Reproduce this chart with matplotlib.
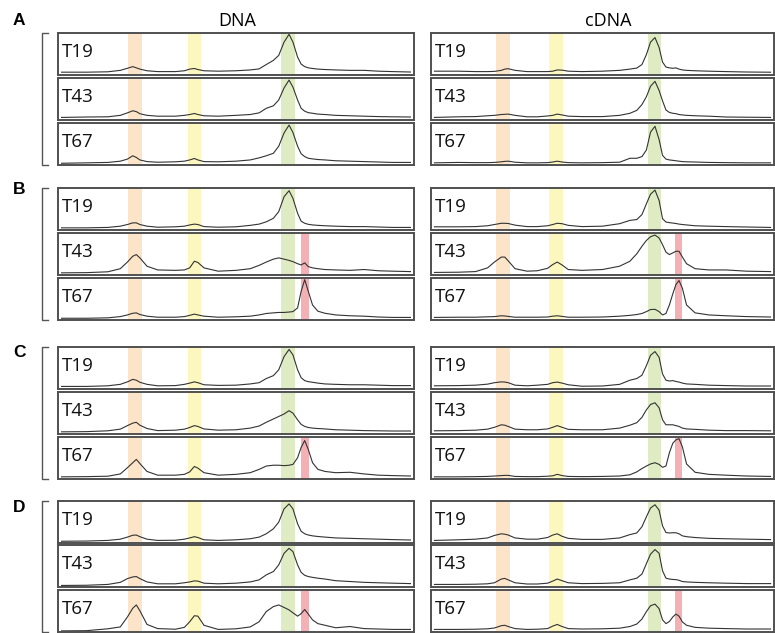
import matplotlib
matplotlib.use("Agg")
import matplotlib.pyplot as plt
from matplotlib.lines import Line2D

# migration position (% of panel width) at which each trace is sampled
X_DNA = [1, 8, 14, 17.5, 19.5, 21, 22, 23, 25, 28, 33, 35.5, 37, 38.3, 39.3, 41, 45, 50,
         54, 56.5, 58.5, 60.5, 62, 63.5, 64.9, 66, 67.3, 68.3, 69.3, 70.3, 71.5, 73, 75,
         78, 82, 86, 90, 94, 99]
X_CDNA = [1, 8, 13, 16.5, 18.5, 20.5, 21.5, 22.5, 24.5, 28, 31, 34, 35.5, 36.8, 38.2, 40,
          44, 50, 55, 58, 60, 61.5, 62.8, 64, 65.3, 66.5, 67.5, 68.5, 69.5, 70.5, 71.4,
          72.3, 73.3, 74.5, 77, 81, 86, 92, 99]

# relative signal, DNA
A_DNA_T19 = [0.056, 0.056, 0.065, 0.10, 0.15, 0.19, 0.16, 0.13, 0.09, 0.07, 0.07, 0.09, 0.13,
             0.145, 0.12, 0.09, 0.08, 0.09, 0.11, 0.135, 0.24, 0.34, 0.46, 0.78, 0.97, 0.78,
             0.42, 0.25, 0.19, 0.16, 0.145, 0.13, 0.12, 0.11, 0.10, 0.10, 0.08, 0.07, 0.06]
A_DNA_T43 = [0.05, 0.06, 0.065, 0.10, 0.16, 0.21, 0.19, 0.14, 0.10, 0.08, 0.08, 0.10, 0.12,
             0.145, 0.12, 0.09, 0.08, 0.10, 0.12, 0.16, 0.27, 0.33, 0.47, 0.76, 0.95, 0.78,
             0.47, 0.27, 0.20, 0.165, 0.15, 0.13, 0.12, 0.10, 0.09, 0.08, 0.07, 0.065, 0.06]
A_DNA_T67 = [0.03, 0.04, 0.05, 0.08, 0.13, 0.21, 0.17, 0.11, 0.07, 0.055, 0.065, 0.08, 0.11,
             0.145, 0.11, 0.07, 0.065, 0.08, 0.11, 0.16, 0.21, 0.27, 0.44, 0.76, 0.95, 0.77,
             0.44, 0.26, 0.19, 0.15, 0.135, 0.12, 0.11, 0.09, 0.08, 0.07, 0.06, 0.05, 0.05]
B_DNA_T19 = [0.04, 0.04, 0.05, 0.08, 0.12, 0.16, 0.16, 0.12, 0.08, 0.055, 0.065, 0.08, 0.11,
             0.13, 0.12, 0.07, 0.055, 0.065, 0.10, 0.13, 0.185, 0.27, 0.43, 0.79, 0.935, 0.75,
             0.39, 0.20, 0.15, 0.125, 0.11, 0.10, 0.09, 0.08, 0.07, 0.07, 0.06, 0.05, 0.05]
B_DNA_T43 = [0.04, 0.045, 0.065, 0.14, 0.30, 0.44, 0.48, 0.40, 0.20, 0.11, 0.10, 0.11, 0.16,
             0.32, 0.29, 0.16, 0.08, 0.10, 0.14, 0.22, 0.30, 0.37, 0.40, 0.37, 0.34, 0.31,
             0.26, 0.23, 0.28, 0.19, 0.16, 0.14, 0.12, 0.11, 0.10, 0.12, 0.09, 0.08, 0.07]
B_DNA_T67 = [0.03, 0.03, 0.04, 0.07, 0.11, 0.15, 0.16, 0.12, 0.08, 0.055, 0.055, 0.07, 0.10,
             0.13, 0.11, 0.08, 0.055, 0.065, 0.08, 0.11, 0.145, 0.16, 0.17, 0.17, 0.18, 0.19,
             0.28, 0.68, 0.96, 0.68, 0.35, 0.20, 0.15, 0.11, 0.09, 0.08, 0.06, 0.05, 0.05]
C_DNA_T19 = [0.05, 0.05, 0.065, 0.10, 0.16, 0.22, 0.20, 0.15, 0.10, 0.065, 0.07, 0.10, 0.13,
             0.16, 0.14, 0.09, 0.075, 0.08, 0.11, 0.14, 0.24, 0.31, 0.45, 0.77, 0.94, 0.81,
             0.45, 0.26, 0.19, 0.165, 0.15, 0.13, 0.11, 0.10, 0.09, 0.09, 0.08, 0.07, 0.07]
C_DNA_T43 = [0.04, 0.045, 0.065, 0.105, 0.19, 0.25, 0.27, 0.20, 0.12, 0.07, 0.08, 0.105, 0.145,
             0.19, 0.17, 0.11, 0.08, 0.09, 0.13, 0.18, 0.27, 0.35, 0.41, 0.47, 0.55, 0.49,
             0.33, 0.22, 0.17, 0.145, 0.13, 0.12, 0.11, 0.09, 0.08, 0.07, 0.065, 0.06, 0.06]
C_DNA_T67 = [0.04, 0.045, 0.055, 0.11, 0.26, 0.38, 0.46, 0.36, 0.17, 0.08, 0.08, 0.10, 0.16,
             0.29, 0.25, 0.14, 0.08, 0.10, 0.14, 0.22, 0.30, 0.32, 0.32, 0.31, 0.32, 0.34,
             0.50, 0.75, 0.915, 0.70, 0.38, 0.22, 0.17, 0.14, 0.15, 0.11, 0.08, 0.07, 0.06]
D_DNA_T19 = [0.03, 0.035, 0.05, 0.08, 0.13, 0.175, 0.18, 0.14, 0.08, 0.05, 0.055, 0.08, 0.11,
             0.14, 0.12, 0.065, 0.05, 0.065, 0.09, 0.13, 0.21, 0.33, 0.49, 0.81, 0.93, 0.81,
             0.45, 0.27, 0.21, 0.18, 0.16, 0.145, 0.13, 0.11, 0.10, 0.09, 0.08, 0.07, 0.06]
D_DNA_T43 = [0.025, 0.03, 0.05, 0.10, 0.19, 0.23, 0.24, 0.19, 0.11, 0.065, 0.065, 0.09, 0.11,
             0.135, 0.13, 0.08, 0.065, 0.08, 0.11, 0.16, 0.28, 0.36, 0.52, 0.80, 0.92, 0.84,
             0.52, 0.34, 0.27, 0.24, 0.22, 0.20, 0.18, 0.14, 0.12, 0.10, 0.09, 0.08, 0.07]
D_DNA_T67 = [0.015, 0.02, 0.065, 0.11, 0.35, 0.56, 0.64, 0.50, 0.17, 0.07, 0.055, 0.10, 0.235,
             0.38, 0.37, 0.15, 0.05, 0.065, 0.11, 0.235, 0.48, 0.60, 0.64, 0.58, 0.52, 0.45,
             0.37, 0.43, 0.53, 0.42, 0.28, 0.19, 0.15, 0.09, 0.12, 0.07, 0.06, 0.05, 0.05]

# relative signal, cDNA
A_CDNA_T19 = [0.08, 0.08, 0.07, 0.07, 0.075, 0.10, 0.13, 0.14, 0.10, 0.07, 0.07, 0.07, 0.08,
              0.11, 0.105, 0.08, 0.07, 0.08, 0.10, 0.13, 0.155, 0.24, 0.48, 0.78, 0.89, 0.65,
              0.30, 0.18, 0.16, 0.15, 0.16, 0.13, 0.11, 0.10, 0.09, 0.08, 0.07, 0.06, 0.055]
A_CDNA_T43 = [0.05, 0.065, 0.07, 0.09, 0.10, 0.12, 0.125, 0.13, 0.10, 0.065, 0.065, 0.085, 0.10,
              0.13, 0.11, 0.08, 0.07, 0.07, 0.10, 0.15, 0.22, 0.36, 0.55, 0.80, 0.92, 0.70,
              0.45, 0.23, 0.17, 0.15, 0.14, 0.12, 0.11, 0.10, 0.09, 0.08, 0.06, 0.055, 0.05]
A_CDNA_T67 = [0.04, 0.05, 0.045, 0.045, 0.05, 0.065, 0.075, 0.08, 0.055, 0.04, 0.04, 0.045,
              0.06, 0.08, 0.06, 0.045, 0.04, 0.045, 0.055, 0.15, 0.15, 0.19, 0.35, 0.78, 0.92,
              0.60, 0.22, 0.13, 0.11, 0.10, 0.09, 0.08, 0.07, 0.065, 0.06, 0.05, 0.045, 0.04,
              0.04]
B_CDNA_T19 = [0.065, 0.065, 0.07, 0.09, 0.12, 0.15, 0.15, 0.145, 0.105, 0.07, 0.07, 0.09, 0.12,
              0.15, 0.14, 0.10, 0.07, 0.08, 0.14, 0.22, 0.24, 0.36, 0.62, 0.85, 0.95, 0.70,
              0.26, 0.18, 0.165, 0.155, 0.145, 0.13, 0.12, 0.11, 0.09, 0.08, 0.07, 0.06, 0.05]
B_CDNA_T43 = [0.05, 0.055, 0.07, 0.16, 0.30, 0.42, 0.42, 0.33, 0.14, 0.08, 0.09, 0.15, 0.24,
              0.30, 0.23, 0.12, 0.10, 0.12, 0.20, 0.32, 0.50, 0.68, 0.82, 0.91, 0.95, 0.88,
              0.72, 0.54, 0.48, 0.52, 0.56, 0.56, 0.42, 0.26, 0.14, 0.11, 0.11, 0.08, 0.07]
B_CDNA_T67 = [0.05, 0.055, 0.055, 0.065, 0.07, 0.09, 0.085, 0.075, 0.055, 0.055, 0.055, 0.06,
              0.08, 0.09, 0.075, 0.055, 0.055, 0.06, 0.08, 0.10, 0.12, 0.145, 0.19, 0.24, 0.245,
              0.19, 0.11, 0.145, 0.35, 0.62, 0.84, 0.94, 0.75, 0.35, 0.16, 0.11, 0.09, 0.07,
              0.06]
C_CDNA_T19 = [0.065, 0.07, 0.08, 0.105, 0.14, 0.16, 0.155, 0.14, 0.08, 0.065, 0.08, 0.10, 0.14,
              0.155, 0.13, 0.09, 0.055, 0.06, 0.10, 0.20, 0.24, 0.32, 0.55, 0.80, 0.89, 0.75,
              0.35, 0.20, 0.18, 0.19, 0.17, 0.155, 0.13, 0.11, 0.10, 0.08, 0.07, 0.06, 0.06]
C_CDNA_T43 = [0.065, 0.07, 0.08, 0.105, 0.15, 0.21, 0.20, 0.17, 0.105, 0.09, 0.09, 0.11, 0.15,
              0.19, 0.15, 0.10, 0.09, 0.09, 0.13, 0.20, 0.26, 0.39, 0.57, 0.70, 0.74, 0.62,
              0.33, 0.21, 0.21, 0.21, 0.19, 0.17, 0.13, 0.11, 0.10, 0.08, 0.07, 0.07, 0.065]
C_CDNA_T67 = [0.04, 0.04, 0.045, 0.05, 0.06, 0.07, 0.075, 0.075, 0.05, 0.045, 0.045, 0.055,
              0.065, 0.10, 0.07, 0.05, 0.045, 0.05, 0.06, 0.09, 0.16, 0.24, 0.30, 0.35, 0.38,
              0.34, 0.27, 0.30, 0.62, 0.85, 0.93, 0.96, 0.76, 0.35, 0.15, 0.10, 0.08, 0.06,
              0.05]
D_CDNA_T19 = [0.05, 0.065, 0.08, 0.11, 0.17, 0.21, 0.20, 0.18, 0.11, 0.08, 0.08, 0.12, 0.18,
              0.21, 0.15, 0.10, 0.075, 0.075, 0.11, 0.19, 0.23, 0.38, 0.62, 0.83, 0.91, 0.78,
              0.40, 0.24, 0.23, 0.235, 0.235, 0.21, 0.16, 0.14, 0.12, 0.10, 0.09, 0.08, 0.07]
D_CDNA_T43 = [0.05, 0.05, 0.055, 0.065, 0.09, 0.18, 0.195, 0.16, 0.09, 0.06, 0.06, 0.08, 0.13,
              0.18, 0.14, 0.09, 0.07, 0.075, 0.09, 0.16, 0.20, 0.30, 0.55, 0.78, 0.89, 0.80,
              0.38, 0.20, 0.18, 0.17, 0.165, 0.15, 0.12, 0.11, 0.10, 0.09, 0.08, 0.07, 0.07]
D_CDNA_T67 = [0.05, 0.05, 0.055, 0.065, 0.085, 0.14, 0.15, 0.12, 0.07, 0.05, 0.055, 0.07, 0.13,
              0.17, 0.12, 0.07, 0.06, 0.065, 0.08, 0.12, 0.18, 0.30, 0.48, 0.62, 0.66, 0.55,
              0.28, 0.19, 0.24, 0.35, 0.42, 0.37, 0.23, 0.15, 0.10, 0.08, 0.07, 0.06, 0.06]

GROUPS = ["A", "B", "C", "D"]
SAMPLES = ["T19", "T43", "T67"]
# which (group, sample) panels carry the extra red band
RED_PANELS = [("B", "T43"), ("B", "T67"), ("C", "T67"), ("D", "T67")]

# highlighted windows (% of width) for each side
BANDS_DNA = {"orange": (19.7, 23.6), "yellow": (36.5, 40.2), "green": (62.6, 66.6),
             "red": (68.3, 70.5)}
BANDS_CDNA = {"orange": (19.0, 23.0), "yellow": (34.4, 38.5), "green": (63.3, 67.1),
              "red": (71.1, 73.2)}
BAND_COLORS = {"orange": "#fbe4c7", "yellow": "#fcf6bf", "green": "#dfebc3",
               "red": "#f4b1b5"}


def main() -> None:
    plt.rcParams["font.family"] = ["Open Sans", "DejaVu Sans"]
    W, H = 775, 633
    fig = plt.figure(figsize=(W / 100, H / 100), dpi=100)

    traces = {
        "DNA": {
            "A": [A_DNA_T19, A_DNA_T43, A_DNA_T67],
            "B": [B_DNA_T19, B_DNA_T43, B_DNA_T67],
            "C": [C_DNA_T19, C_DNA_T43, C_DNA_T67],
            "D": [D_DNA_T19, D_DNA_T43, D_DNA_T67],
        },
        "cDNA": {
            "A": [A_CDNA_T19, A_CDNA_T43, A_CDNA_T67],
            "B": [B_CDNA_T19, B_CDNA_T43, B_CDNA_T67],
            "C": [C_CDNA_T19, C_CDNA_T43, C_CDNA_T67],
            "D": [D_CDNA_T19, D_CDNA_T43, D_CDNA_T67],
        },
    }
    sides = {"DNA": (58, 356, X_DNA, BANDS_DNA), "cDNA": (431, 343, X_CDNA, BANDS_CDNA)}

    # panel tops in pixels, one row of three per group
    tops = {"A": [33, 78, 123], "B": [188, 233, 278],
            "C": [347, 392, 437], "D": [501, 545, 590]}
    ph = 41.5

    for side, (x0, pw, xs, bands) in sides.items():
        for g in GROUPS:
            for i, s in enumerate(SAMPLES):
                top = tops[g][i]
                ax = fig.add_axes([x0 / W, 1 - (top + ph) / H, pw / W, ph / H])
                for name in ("orange", "yellow", "green"):
                    ax.axvspan(*bands[name], color=BAND_COLORS[name], lw=0, zorder=0)
                if (g, s) in RED_PANELS:
                    ax.axvspan(*bands["red"], color=BAND_COLORS["red"], lw=0, zorder=0)
                ax.plot(xs, traces[side][g][i], color="#333333", lw=0.8, zorder=2)
                ax.set_xlim(0, 100)
                ax.set_ylim(0, 1)
                ax.set_xticks([])
                ax.set_yticks([])
                for sp in ax.spines.values():
                    sp.set_color("#505050")
                    sp.set_linewidth(1.4)
                ax.text(0.012, 0.54, s, transform=ax.transAxes, fontsize=13.5,
                        ha="left", va="center", color="#111111", zorder=3)

    # group brackets and letters
    letter_y = {"A": 20.5, "B": 189, "C": 353, "D": 508}
    for g in GROUPS:
        t = tops[g][0]
        b = min(tops[g][2] + ph, H - 1)
        xs_b = [48 / W, 42 / W, 42 / W, 48 / W]
        ys_b = [1 - t / H, 1 - t / H, 1 - b / H, 1 - b / H]
        fig.add_artist(Line2D(xs_b, ys_b, transform=fig.transFigure,
                              color="#555555", lw=1.0))
        fig.text(19 / W, 1 - letter_y[g] / H, g, fontsize=12.5, fontweight="bold",
                 family=["Liberation Sans", "DejaVu Sans"], ha="center", va="center")

    fig.text(237 / W, 1 - 21 / H, "DNA", fontsize=13, ha="center", va="center")
    fig.text(608 / W, 1 - 21 / H, "cDNA", fontsize=13, ha="center", va="center")

    fig.savefig("out.png", dpi=100)


if __name__ == "__main__":
    main()
